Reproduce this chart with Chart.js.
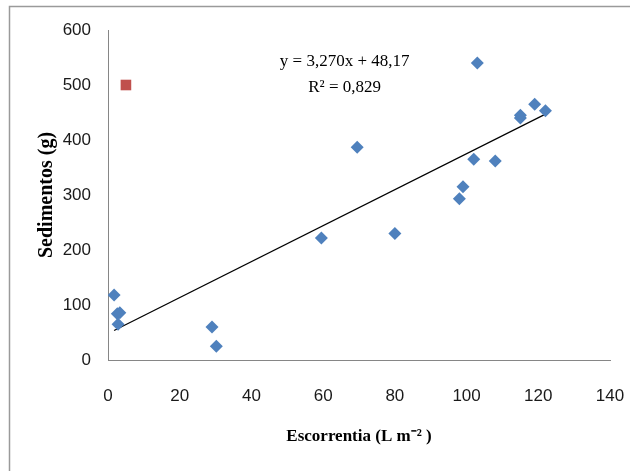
<!DOCTYPE html>
<html>
<head>
<meta charset="utf-8">
<script src="https://cdn.jsdelivr.net/npm/chart.js@4/dist/chart.umd.min.js"></script>
<style>
  html, body { margin: 0; padding: 0; background: #fff; }
  #wrap { width: 630px; height: 471px; position: relative; }
</style>
</head>
<body>
<div id="wrap"><canvas id="grafico" width="630" height="471"></canvas></div>
<script>
// datos
const escorrentia = [1.7, 2.6, 3.3, 2.8, 29, 30.2, 59.5, 69.5, 80, 98, 99, 102, 103, 108, 115, 115, 119, 122];
const sedimentos  = [118, 84, 86, 65, 60, 25, 222, 387, 230, 293, 315, 365, 540, 362, 440, 445, 465, 453];

const atipicoX = [5];
const atipicoY = [500];

// recta de regresion y = 3,270x + 48,17 (extremos)
const tendenciaX = [1.7, 122];
const tendenciaY = [53.7, 447.1];

const ticksX = [0, 20, 40, 60, 80, 100, 120, 140];
const ticksY = [0, 100, 200, 300, 400, 500, 600];

const ecuacion = ["y = 3,270x + 48,17", "R\u00B2 = 0,829"];

function puntos(xs, ys) {
  return xs.map((x, i) => ({ x: x, y: ys[i] }));
}

const marco = {
  id: 'marco',
  beforeDraw(chart) {
    const ctx = chart.ctx;
    ctx.save();
    ctx.fillStyle = '#fff';
    ctx.fillRect(0, 0, chart.width, chart.height);
    ctx.strokeStyle = '#9a9a9a';
    ctx.lineWidth = 1.5;
    ctx.beginPath();
    ctx.moveTo(9.5, chart.height);
    ctx.lineTo(9.5, 6.5);
    ctx.lineTo(chart.width, 6.5);
    ctx.stroke();
    ctx.restore();
  },
  afterDraw(chart) {
    const ctx = chart.ctx;
    const xs = chart.scales.x, ys = chart.scales.y;
    ctx.save();
    ctx.fillStyle = '#000';
    ctx.font = '17px "Liberation Serif", "Times New Roman", serif';
    ctx.textAlign = 'center';
    ctx.textBaseline = 'middle';
    const cx = xs.getPixelForValue(66);
    ctx.fillText(ecuacion[0], cx, ys.getPixelForValue(543));
    ctx.fillText(ecuacion[1], cx, ys.getPixelForValue(496));
    ctx.restore();
  }
};

const ctx = document.getElementById('grafico');
new Chart(ctx, {
  type: 'scatter',
  data: {
    datasets: [
      {
        label: 'Sedimentos',
        data: puntos(escorrentia, sedimentos),
        pointStyle: 'rectRot',
        pointRadius: 6.5,
        backgroundColor: '#4F81BD',
        borderColor: '#4F81BD',
        borderWidth: 0
      },
      {
        label: 'Atipico',
        data: puntos(atipicoX, atipicoY),
        pointStyle: 'rect',
        pointRadius: 7.5,
        backgroundColor: '#C0504D',
        borderColor: '#C0504D',
        borderWidth: 0
      },
      {
        type: 'line',
        label: 'Lineal',
        data: puntos(tendenciaX, tendenciaY),
        borderColor: '#000',
        borderWidth: 1.2,
        pointRadius: 0,
        fill: false
      }
    ]
  },
  options: {
    responsive: false,
    animation: false,
    layout: { autoPadding: false, padding: { left: 35, right: 20, top: 30, bottom: 24 } },
    scales: {
      x: {
        type: 'linear',
        min: 0,
        max: 140,
        afterBuildTicks: s => { s.ticks = ticksX.map(v => ({ value: v })); },
        afterFit: s => { s.height = 87; s.paddingLeft = 0; s.paddingRight = 0; },
        grid: { display: false, drawTicks: false },
        border: { display: true, color: '#868686', width: 1 },
        ticks: {
          color: '#1a1a1a',
          padding: 26,
          font: { family: '"Liberation Sans Narrow", "Arial Narrow", sans-serif', size: 17 }
        },
        title: {
          display: true,
          text: 'Escorrentia (L m\u207B\u00B2 )',
          color: '#000',
          padding: { top: 20, bottom: 0 },
          font: { family: '"Liberation Serif", "Times New Roman", serif', size: 17, weight: 'bold' }
        }
      },
      y: {
        min: 0,
        max: 600,
        afterBuildTicks: s => { s.ticks = ticksY.map(v => ({ value: v })); },
        afterFit: s => { s.width = 73; s.paddingTop = 0; s.paddingBottom = 0; },
        grid: { display: false, drawTicks: false },
        border: { display: true, color: '#868686', width: 1 },
        ticks: {
          color: '#1a1a1a',
          padding: 17,
          font: { family: '"Liberation Sans Narrow", "Arial Narrow", sans-serif', size: 17 }
        },
        title: {
          display: true,
          text: 'Sedimentos (g)',
          color: '#000',
          padding: { top: 0, bottom: 0 },
          font: { family: '"Liberation Serif", "Times New Roman", serif', size: 20, weight: 'bold' }
        }
      }
    },
    plugins: {
      legend: { display: false },
      tooltip: { enabled: false }
    }
  },
  plugins: [marco]
});
</script>
</body>
</html>
